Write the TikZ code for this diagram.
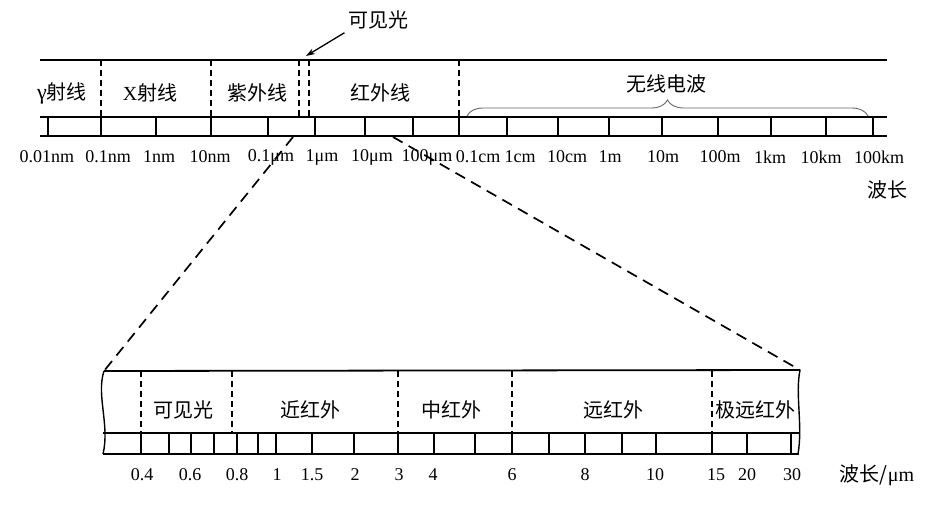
\documentclass[tikz,border=0pt]{standalone}
\usepackage{fontspec}
\setmainfont{Liberation Serif}
\newfontfamily\cjk{Noto Sans CJK SC}
\usetikzlibrary{decorations.pathreplacing,arrows.meta}
\tikzset{
	band/.style={line width=1.8pt},
	trenn/.style={line width=1.5pt,dash pattern=on 6pt off 4pt},
	lupe/.style={line width=1.7pt,dash pattern=on 11pt off 7pt},
	zh/.style={font=\cjk\fontsize{20}{20}\selectfont},
	zahl/.style={font=\fontsize{18}{18}\selectfont},
}
\begin{document}
\begin{tikzpicture}[x=1pt,y=-1pt]
	\useasboundingbox (0,0) rectangle (946,508);
	% oberes Band
	\draw [band] (40,60) -- (887,60);%Oberkante
	\draw [band] (40,117) -- (887,117);%Skala oben
	\draw [band] (40,136) -- (887,136);%Skala unten
	\foreach \x in {48,101,156,211,268,315,365,413,459,507,558,609,662,718,771,826,873}
		\draw [band] (\x,117) -- (\x,136);
	\foreach \x/\l [count=\i] in {47/0.01nm,108/0.1nm,159/1nm,210/10nm,271/0.1μm,322/1μm,372/10μm,427/100μm,478/0.1cm,520/1cm,567/10cm,610/1m,663/10m,720/100m,770/1km,821/10km,879/100km}
		\node [zahl] (w\i) at (\x,157) {\l};
	\foreach \x in {101,211,299,309,459}
		\draw [trenn] (\x,60) -- (\x,117);%Grenzen
	\node [zh] (gamma) at (62,93) {{\rmfamily\fontsize{22}{22}\selectfont γ}射线};
	\node [zh] (roentgen) at (150,93) {{\rmfamily X}射线};
	\node [zh] (uv) at (257,93) {紫外线};
	\node [zh] (ir) at (380,93) {红外线};
	\node [zh] (funk) at (666,84) {无线电波};
	\draw [decorate,decoration={brace,amplitude=16pt},gray!80!black,line width=0.9pt] (467,116) -- (868,116);
	\node [zh] (sicht) at (378,20) {可见光};
	\coordinate (spalt) at (306,56);
	\draw [line width=1.3pt,-{Stealth[length=9pt,width=6pt]}] (sicht.south west) -- (spalt);
	\node [zh] (wl) at (887,190) {波长};

	% Lupe
	\coordinate (lupeL) at (293,137);
	\coordinate (lupeR) at (393,137);
	\coordinate (untenL) at (104,371);
	\coordinate (untenR) at (800,370);
	\draw [lupe] (lupeL) -- (untenL);
	\draw [lupe] (lupeR) -- (untenR);

	% unteres Band
	\draw [band] (untenL) -- (untenR);%Oberkante
	\draw [band] (103,433) -- (799,433);
	\draw [band] (103,454) -- (799,454);
	\draw [line width=1.4pt] (untenL) .. controls (96,395) and (110,425) .. (103,454);%Bruchkante links
	\draw [line width=1.4pt] (untenR) .. controls (795,395) and (803,425) .. (798,454);%Bruchkante rechts
	\foreach \x in {141,169,191,214,237,258,276,312,354,398,434,475,512,549,585,622,656,712,747,791}
		\draw [band] (\x,433) -- (\x,454);
	\foreach \x in {141,232,398,512,712}
		\draw [trenn] (\x,371) -- (\x,433);
	\foreach \x/\l [count=\i] in {142/0.4,190/0.6,237/0.8,277/1,312/1.5,355/2,399/3,433/4,512/6,585/8,655/10,716/15,747/20,792/30}
		\node [zahl] (z\i) at (\x,475) {\l};
	\node [zh] (einheit) at (877,475) {波长/{\rmfamily μm}};
	\node [zh] (vis) at (183,410) {可见光};
	\node [zh] (nir) at (310,410) {近红外};
	\node [zh] (mir) at (451,410) {中红外};
	\node [zh] (fir) at (613,410) {远红外};
	\node [zh] (efir) at (755,410) {极远红外};
\end{tikzpicture}
\end{document}
